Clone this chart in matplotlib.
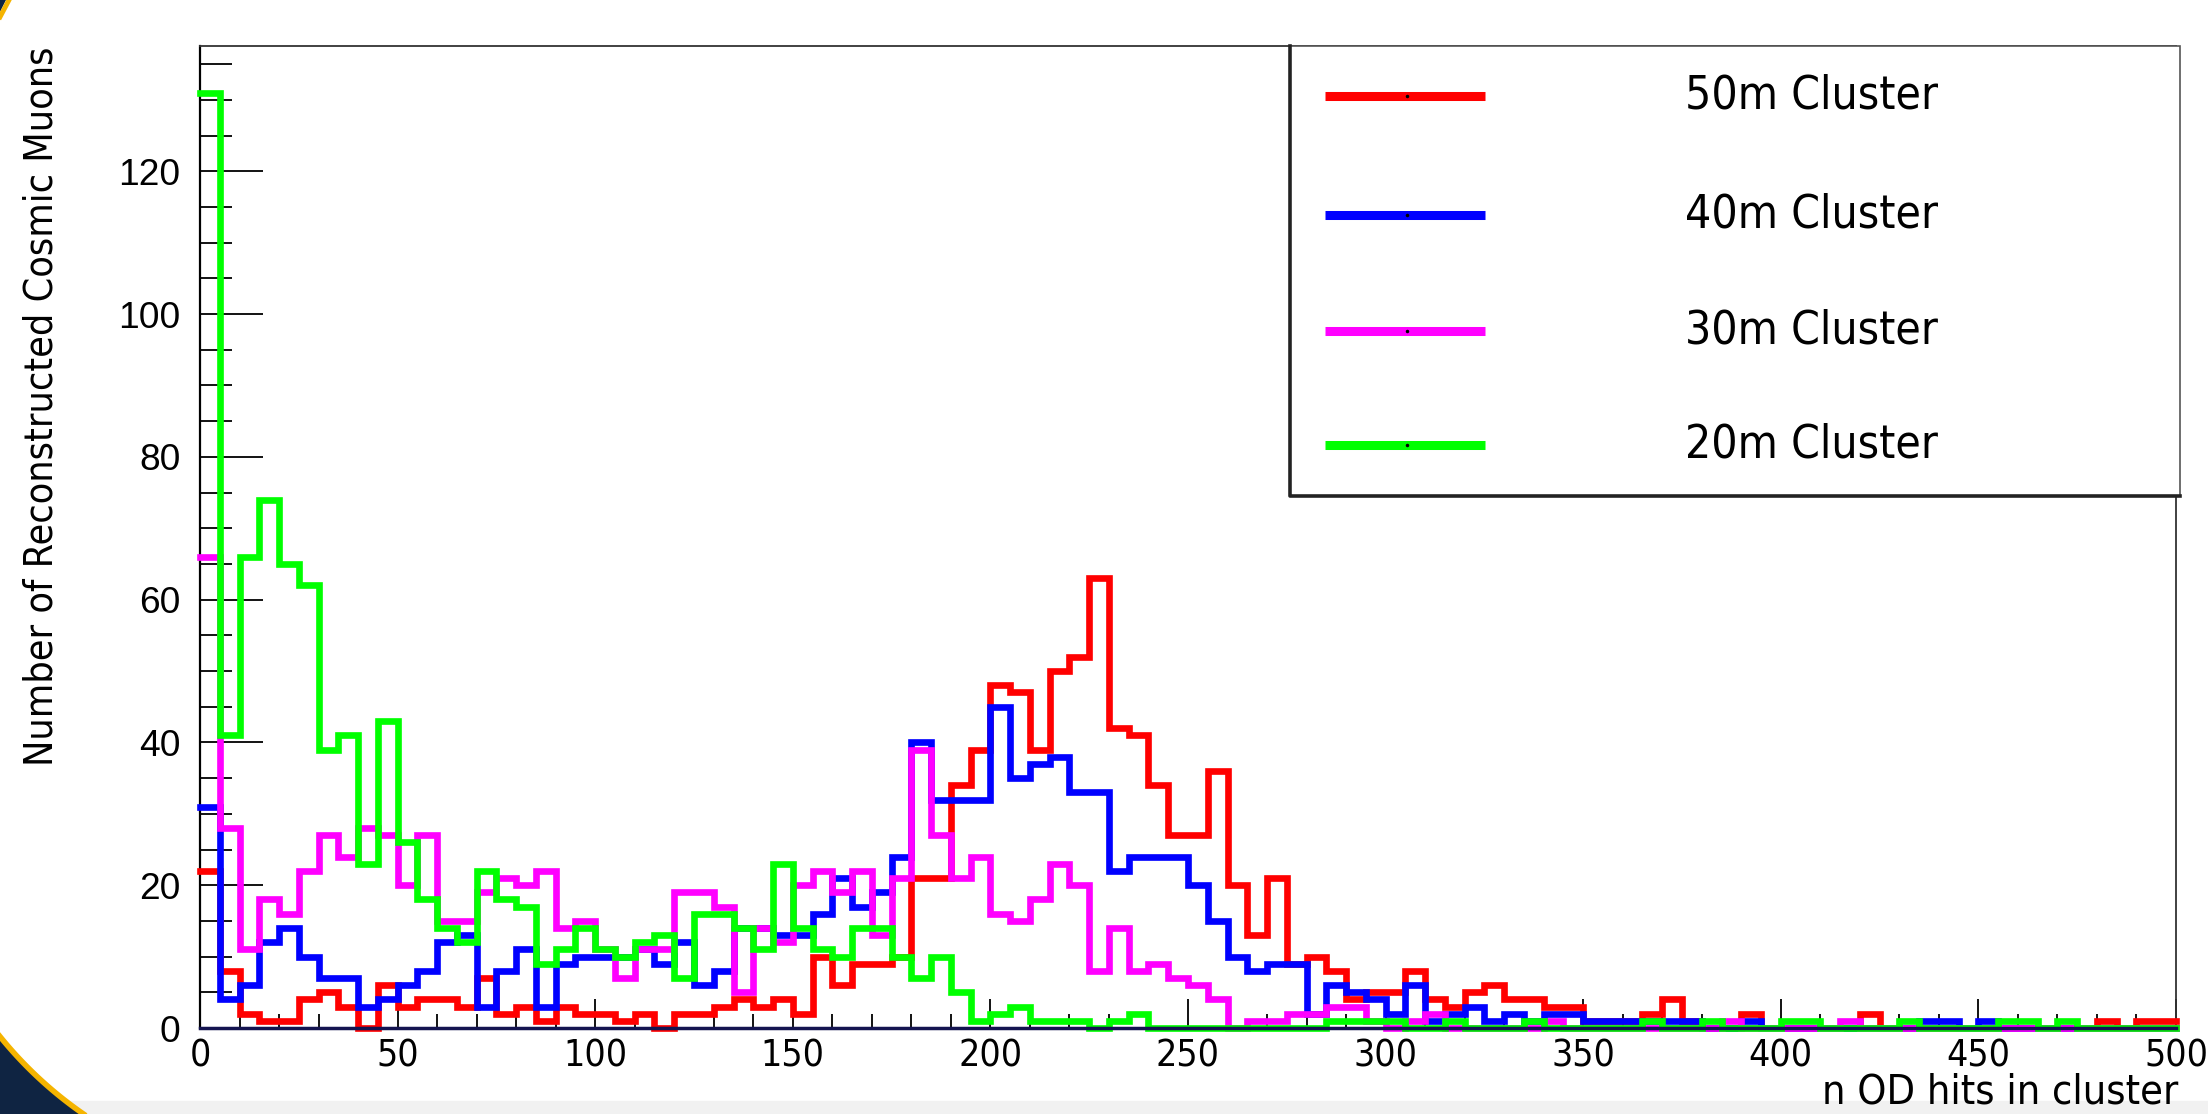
import numpy as np
import matplotlib
matplotlib.use("Agg")
import matplotlib.pyplot as plt
from matplotlib import font_manager
from matplotlib.patches import Rectangle, Polygon
from matplotlib.lines import Line2D
from matplotlib.ticker import MultipleLocator

# histogram binning: 100 bins of width 5 between 0 and 500
X_MIN, X_MAX, N_BINS = 0, 500, 100

LABELS = ["50m Cluster", "40m Cluster", "30m Cluster", "20m Cluster"]
COLORS = ["#ff0000", "#0000ff", "#ff00ff", "#00ff00"]

counts_50m = [22, 8, 2, 1, 1, 4, 5, 3, 0, 6,
              3, 4, 4, 3, 7, 2, 3, 1, 3, 2,
              2, 1, 2, 0, 2, 2, 3, 4, 3, 4,
              2, 10, 6, 9, 9, 10, 21, 21, 34, 39,
              48, 47, 39, 50, 52, 63, 42, 41, 34, 27,
              27, 36, 20, 13, 21, 9, 10, 8, 4, 5,
              5, 8, 4, 3, 5, 6, 4, 4, 3, 3,
              1, 1, 1, 2, 4, 1, 0, 0, 2, 0,
              0, 0, 0, 0, 2, 0, 0, 0, 0, 0,
              0, 0, 0, 0, 0, 0, 1, 0, 1, 1]

counts_40m = [31, 4, 6, 12, 14, 10, 7, 7, 3, 4,
              6, 8, 12, 13, 3, 8, 11, 3, 9, 10,
              10, 10, 11, 9, 12, 6, 8, 14, 14, 13,
              13, 16, 21, 17, 19, 24, 40, 32, 32, 32,
              45, 35, 37, 38, 33, 33, 22, 24, 24, 24,
              20, 15, 10, 8, 9, 9, 2, 6, 5, 4,
              2, 6, 1, 2, 3, 1, 2, 1, 2, 2,
              1, 1, 1, 1, 1, 1, 0, 0, 1, 0,
              0, 0, 0, 0, 0, 0, 0, 1, 1, 0,
              1, 0, 0, 0, 0, 0, 0, 0, 0, 0]

counts_30m = [66, 28, 11, 18, 16, 22, 27, 24, 28, 27,
              20, 27, 15, 15, 19, 21, 20, 22, 14, 15,
              11, 7, 11, 11, 19, 19, 17, 5, 14, 12,
              20, 22, 19, 22, 13, 21, 39, 27, 21, 24,
              16, 15, 18, 23, 20, 8, 14, 8, 9, 7,
              6, 4, 0, 1, 1, 2, 2, 3, 3, 1,
              0, 1, 2, 0, 0, 0, 0, 0, 1, 0,
              0, 0, 0, 0, 0, 0, 0, 1, 0, 0,
              0, 0, 0, 1, 0, 0, 0, 0, 0, 0,
              0, 0, 0, 0, 0, 0, 0, 0, 0, 0]

counts_20m = [131, 41, 66, 74, 65, 62, 39, 41, 23, 43,
              26, 18, 14, 12, 22, 18, 17, 9, 11, 14,
              11, 10, 12, 13, 7, 16, 16, 14, 11, 23,
              14, 11, 10, 14, 14, 10, 7, 10, 5, 1,
              2, 3, 1, 1, 1, 0, 1, 2, 0, 0,
              0, 0, 0, 0, 0, 0, 0, 1, 1, 1,
              1, 0, 0, 1, 0, 0, 0, 1, 0, 0,
              0, 0, 0, 1, 0, 0, 1, 0, 0, 0,
              1, 1, 0, 0, 0, 0, 1, 0, 0, 0,
              0, 1, 1, 0, 1, 0, 0, 0, 0, 0]

SERIES = [counts_50m, counts_40m, counts_30m, counts_20m]

# ---- fonts: a narrow face where one is installed
names = {f.name for f in font_manager.fontManager.ttflist}
SANS = next((n for n in ["Liberation Sans", "Arimo", "DejaVu Sans"] if n in names), "DejaVu Sans")
if "Liberation Sans Narrow" in names:
    NARROW, STRETCH = "Liberation Sans Narrow", "normal"
elif any(f.name == "DejaVu Sans" and str(f.stretch) == "condensed" for f in font_manager.fontManager.ttflist):
    NARROW, STRETCH = "DejaVu Sans", "condensed"
else:
    NARROW, STRETCH = SANS, "normal"

W, H = 2208, 1114
fig = plt.figure(figsize=(W / 100, H / 100), dpi=100)
fig.patch.set_facecolor("white")
renderer = fig.canvas.get_renderer()


def fx(x):
    return x / W


def fy(y):
    return 1 - y / H


def fit_size(s, target_px, family, stretch="normal", base=30.0):
    # font size that makes string s about target_px wide
    t = fig.text(0, 0, s, fontsize=base, family=family, stretch=stretch)
    w = t.get_window_extent(renderer).width
    t.remove()
    return base * target_px / w


# slide decorations (grey bottom band, navy/yellow corner)
fig.patches.append(Rectangle((0, 0), 1, fy(1101), transform=fig.transFigure,
                             color="#f1f1f1", zorder=-5))
ys = np.linspace(1036, H, 40)
xs = 311 - np.sqrt(400 ** 2 - (ys - 785) ** 2)
corner = np.column_stack([fx(np.r_[xs, 0]), fy(np.r_[ys, H])])
fig.patches.append(Polygon(corner, closed=True, transform=fig.transFigure,
                           facecolor="#0f2442", edgecolor="none", zorder=-4))
fig.lines.append(Line2D(fx(xs), fy(ys), transform=fig.transFigure,
                        color="#f5b400", lw=4, zorder=-3))
fig.patches.append(Polygon([[0, 1], [fx(6), 1], [0, fy(12)]], closed=True,
                           transform=fig.transFigure, facecolor="#0f2442",
                           edgecolor="none", zorder=-4))
fig.lines.append(Line2D([fx(9), 0], [1, fy(17)], transform=fig.transFigure,
                        color="#f5b400", lw=3.5, zorder=-3))

# ---- axes
ax = fig.add_axes([fx(200), fy(1028), (2176 - 200) / W, (1028 - 46) / H])
edges = np.linspace(X_MIN, X_MAX, N_BINS + 1)
for vals, col, z in zip(SERIES, COLORS, [3, 4, 5, 6]):
    ax.stairs(vals, edges, baseline=None, color=col, lw=4.8, zorder=z,
              clip_on=False, capstyle="projecting", joinstyle="miter")

ax.set_xlim(X_MIN, X_MAX)
ax.set_ylim(0, 1.05 * max(max(s) for s in SERIES))

ax.xaxis.set_major_locator(MultipleLocator(50))
ax.xaxis.set_minor_locator(MultipleLocator(10))
ax.yaxis.set_major_locator(MultipleLocator(20))
ax.yaxis.set_minor_locator(MultipleLocator(5))

ytick_size = fit_size("120", 62, SANS)
xtick_size = fit_size("100", 64, NARROW, STRETCH)
ax.tick_params(axis="y", which="major", direction="in", length=45, width=1.3,
               pad=14, labelsize=ytick_size, colors="black")
ax.tick_params(axis="y", which="minor", direction="in", length=23, width=1.3)
ax.tick_params(axis="x", which="major", direction="in", length=21, width=1.3,
               pad=7, labelsize=xtick_size)
ax.tick_params(axis="x", which="minor", direction="in", length=10, width=1.3)
for lab in ax.get_yticklabels():
    lab.set_family(SANS)
for lab in ax.get_xticklabels():
    lab.set_family(NARROW)
    lab.set_fontstretch(STRETCH)

for s in ["top", "right"]:
    ax.spines[s].set_color("#333333")
    ax.spines[s].set_linewidth(1.3)
ax.spines["left"].set_linewidth(1.6)
ax.spines["bottom"].set_color("#141450")
ax.spines["bottom"].set_linewidth(2.5)
ax.spines["bottom"].set_zorder(10)

ylab = "Number of Reconstructed Cosmic Muons"
xlab = "n OD hits in cluster"
fig.text(fx(42), fy(46), ylab, rotation=90, ha="center", va="top",
         fontsize=fit_size(ylab, 718, NARROW, STRETCH), family=NARROW, stretch=STRETCH)
fig.text(fx(2178), fy(1093), xlab, ha="right", va="center",
         fontsize=fit_size(xlab, 356, NARROW, STRETCH), family=NARROW, stretch=STRETCH)

# ---- legend box (ROOT style)
lx0, lx1, ly0, ly1 = 1290, 2180, 46, 496
fig.patches.append(Rectangle((fx(lx0), fy(ly1)), fx(lx1) - fx(lx0), fy(ly0) - fy(ly1),
                             transform=fig.transFigure, facecolor="white",
                             edgecolor="#555555", lw=1.2, zorder=20))
fig.lines.append(Line2D([fx(lx0), fx(lx0), fx(lx1)], [fy(ly0), fy(ly1), fy(ly1)],
                        transform=fig.transFigure, color="#222222", lw=2.6, zorder=21))
rows = [96, 215, 331, 445]
leg_size = fit_size(LABELS[0], 253, NARROW, STRETCH)
for lab, col, ry in zip(LABELS, COLORS, rows):
    fig.lines.append(Line2D([fx(1325), fx(1485)], [fy(ry), fy(ry)], transform=fig.transFigure,
                            color=col, lw=6.5, solid_capstyle="butt", zorder=22))
    fig.lines.append(Line2D([fx(1407)], [fy(ry)], transform=fig.transFigure, marker="o",
                            ms=1.5, color="black", zorder=23))
    fig.text(fx(1685), fy(ry), lab, ha="left", va="center", fontsize=leg_size,
             family=NARROW, stretch=STRETCH, zorder=23)

fig.savefig("out.png", dpi=100, facecolor=fig.get_facecolor())
